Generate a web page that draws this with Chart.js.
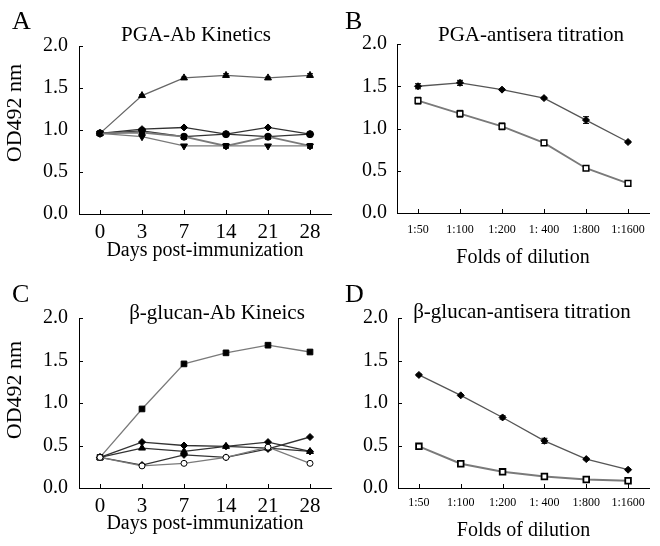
<!DOCTYPE html>
<html><head><meta charset="utf-8">
<script src="https://cdn.jsdelivr.net/npm/chart.js@4"></script>
<style>
body{margin:0;background:#fff}
#wrap{position:relative;width:660px;height:546px;background:#fff}
canvas{position:absolute}
</style>
</head><body>
<div id="wrap">
<canvas id="cA" width="340" height="273" style="left:0;top:0"></canvas>
<canvas id="cB" width="330" height="273" style="left:330px;top:0"></canvas>
<canvas id="cC" width="340" height="273" style="left:0;top:273px"></canvas>
<canvas id="cD" width="330" height="273" style="left:330px;top:273px"></canvas>
</div>
<script>
// ---- data ----
const days = ['0','3','7','14','21','28'];
const dilutions = ['1:50','1:100','1:200','1: 400','1:800','1:1600'];
const yTickValues = [0, 0.5, 1.0, 1.5, 2.0];

// Panel A: PGA-Ab kinetics
const pgaKinTop = [0.96, 1.41, 1.62, 1.65, 1.62, 1.65];
const pgaKinTopErr = [0, 0.01, 0.01, 0.02, 0.01, 0.02];
const pgaKinS1 = [0.96, 1.01, 1.03, 0.95, 1.03, 0.95];
const pgaKinS2 = [0.96, 0.99, 0.92, 0.95, 0.92, 0.95];
const pgaKinS3 = [0.96, 0.97, 0.92, 0.81, 0.92, 0.81];
const pgaKinS4 = [0.96, 0.92, 0.81, 0.81, 0.81, 0.81];

// Panel B: PGA-antisera titration
const pgaTitHigh = [1.50, 1.54, 1.46, 1.36, 1.10, 0.84];
const pgaTitHighErr = [0.03, 0.03, 0.01, 0.01, 0.04, 0.01];
const pgaTitLow = [1.33, 1.175, 1.025, 0.83, 0.53, 0.35];
const pgaTitLowErr = [0.04, 0.04, 0.04, 0.01, 0.01, 0.01];

// Panel C: beta-glucan-Ab kinetics
const glcKinTop = [0.36, 0.93, 1.46, 1.59, 1.68, 1.60];
const glcKinS1 = [0.36, 0.54, 0.50, 0.49, 0.54, 0.43];
const glcKinS2 = [0.36, 0.47, 0.43, 0.49, 0.47, 0.43];
const glcKinS3 = [0.36, 0.27, 0.39, 0.36, 0.46, 0.60];
const glcKinS4 = [0.36, 0.26, 0.29, 0.36, 0.48, 0.29];

// Panel D: beta-glucan-antisera titration
const glcTitHigh = [1.33, 1.09, 0.83, 0.555, 0.34, 0.215];
const glcTitHighErr = [0.01, 0.01, 0.02, 0.03, 0.01, 0.01];
const glcTitLow = [0.49, 0.285, 0.19, 0.135, 0.10, 0.085];
const glcTitLowErr = [0.01, 0.01, 0.01, 0.01, 0.01, 0.01];

// ---- drawing ----
const SERIF = "'Liberation Serif', 'DejaVu Serif', 'Times New Roman', serif";

function ds(data, o) {
  return Object.assign({
    data: data,
    borderColor: '#444',
    borderWidth: 1.3,
    pointStyle: 'circle',
    pointRadius: 3.5,
    pointBackgroundColor: '#000',
    pointBorderColor: '#000',
    pointBorderWidth: 1,
    pointRotation: 0,
    tension: 0,
    fill: false
  }, o || {});
}

function makePanel(id, p) {
  const decor = {
    id: 'decor' + id,
    beforeDatasetsDraw(chart) {
      const ctx = chart.ctx;
      const x = chart.scales.x, y = chart.scales.y;
      ctx.save();
      ctx.strokeStyle = '#000';
      ctx.lineWidth = 1;
      (p.errors || []).forEach(e => {
        const vals = chart.data.datasets[e.ds].data;
        vals.forEach((v, i) => {
          const err = e.err[i];
          if (!err) return;
          const px = x.getPixelForValue(i);
          const y1 = y.getPixelForValue(v - err), y2 = y.getPixelForValue(v + err);
          ctx.beginPath();
          ctx.moveTo(px, y1); ctx.lineTo(px, y2);
          ctx.moveTo(px - 3, y1); ctx.lineTo(px + 3, y1);
          ctx.moveTo(px - 3, y2); ctx.lineTo(px + 3, y2);
          ctx.stroke();
        });
      });
      ctx.restore();
    },
    afterDraw(chart) {
      const ctx = chart.ctx;
      const x = chart.scales.x, y = chart.scales.y;
      const area = chart.chartArea;
      ctx.save();
      ctx.strokeStyle = '#000';
      ctx.lineWidth = 1;
      ctx.beginPath();
      x.ticks.forEach((t, i) => {
        const px = Math.round(x.getPixelForTick(i)) + 0.5;
        ctx.moveTo(px, area.bottom);
        ctx.lineTo(px, area.bottom - 4);
      });
      y.ticks.forEach(t => {
        const py = Math.round(y.getPixelForValue(t.value)) + 0.5;
        ctx.moveTo(area.left, py);
        ctx.lineTo(area.left + 4, py);
      });
      ctx.stroke();
      ctx.fillStyle = '#000';
      ctx.textBaseline = 'middle';
      ctx.textAlign = 'left';
      ctx.font = '26px ' + SERIF;
      ctx.fillText(p.letter, p.letterX, p.letterY);
      ctx.textAlign = 'center';
      ctx.font = '21px ' + SERIF;
      ctx.fillText(p.title, p.titleX, p.titleY);
      if (p.yTitle) {
        ctx.save();
        ctx.translate(p.yTitleX, p.yTitleY);
        ctx.rotate(-Math.PI / 2);
        ctx.font = '22px ' + SERIF;
        ctx.fillText(p.yTitle, 0, 0);
        ctx.restore();
      }
      ctx.restore();
    }
  };
  new Chart(document.getElementById(id), {
    type: 'line',
    data: { labels: p.labels, datasets: p.datasets },
    options: {
      responsive: false,
      animation: false,
      events: [],
      layout: { padding: { top: p.padTop, right: p.padRight, left: 0, bottom: 0 } },
      plugins: { legend: { display: false }, tooltip: { enabled: false } },
      scales: {
        x: {
          type: 'category',
          offset: true,
          grid: { display: false, drawTicks: false },
          border: { display: true, color: '#000', width: 1 },
          ticks: { color: '#000', font: { family: SERIF, size: p.xTickSize }, padding: p.xTickPad, maxRotation: 0, autoSkip: false },
          title: { display: true, text: p.xTitle, color: '#000', font: { family: SERIF, size: 20 }, padding: { top: 0, bottom: p.xTitlePad } },
          afterFit: s => { s.height = p.xHeight; }
        },
        y: {
          min: 0, max: 2,
          grid: { display: false, drawTicks: false },
          border: { display: true, color: '#000', width: 1 },
          afterBuildTicks: s => { s.ticks = yTickValues.map(v => ({ value: v })); },
          ticks: { color: '#000', font: { family: SERIF, size: 20 }, padding: p.yTickPad, callback: v => Number(v).toFixed(1) },
          afterFit: s => { s.width = p.yWidth; }
        }
      }
    },
    plugins: [decor]
  });
}

const GRAY = '#7a7a7a', DARK = '#333';

makePanel('cA', {
  labels: days, xTitle: 'Days post-immunization',
  padTop: 46, padRight: 9, yWidth: 79, xHeight: 59, xTickSize: 21, xTickPad: 6, xTitlePad: 10, yTickPad: 11,
  letter: 'A', letterX: 12, letterY: 22, title: 'PGA-Ab Kinetics', titleX: 196, titleY: 35,
  yTitle: 'OD492 nm', yTitleX: 15, yTitleY: 113,
  datasets: [
    ds(pgaKinS4, { borderColor: GRAY, pointStyle: 'triangle', pointRotation: 180, pointRadius: 4 }),
    ds(pgaKinS3, { borderColor: GRAY, borderWidth: 1.8, pointStyle: 'rect', pointRadius: 3.5 }),
    ds(pgaKinS2, { borderColor: DARK, pointStyle: 'circle', pointRadius: 3.5 }),
    ds(pgaKinS1, { borderColor: DARK, pointStyle: 'rectRot', pointRadius: 3.5 }),
    ds(pgaKinTop, { borderColor: '#666', pointStyle: 'triangle', pointRadius: 4 })
  ],
  errors: [{ ds: 4, err: pgaKinTopErr }]
});

makePanel('cB', {
  labels: dilutions, xTitle: 'Folds of dilution',
  padTop: 44, padRight: 11, yWidth: 67, xHeight: 60, xTickSize: 12, xTickPad: 10, xTitlePad: 3, yTickPad: 10,
  letter: 'B', letterX: 15, letterY: 22, title: 'PGA-antisera titration', titleX: 201, titleY: 35,
  datasets: [
    ds(pgaTitLow, { borderColor: GRAY, borderWidth: 1.8, pointStyle: 'rect', pointRadius: 4, pointBackgroundColor: '#fff', pointBorderWidth: 1.5 }),
    ds(pgaTitHigh, { borderColor: '#555', pointStyle: 'rectRot', pointRadius: 3.5 })
  ],
  errors: [{ ds: 0, err: pgaTitLowErr }, { ds: 1, err: pgaTitHighErr }]
});

makePanel('cC', {
  labels: days, xTitle: 'Days post-immunization',
  padTop: 45, padRight: 9, yWidth: 79, xHeight: 58, xTickSize: 21, xTickPad: 6, xTitlePad: 10, yTickPad: 11,
  letter: 'C', letterX: 12, letterY: 22, title: 'β-glucan-Ab Kineics', titleX: 217, titleY: 40,
  yTitle: 'OD492 nm', yTitleX: 15, yTitleY: 117,
  datasets: [
    ds(glcKinS4, { borderColor: GRAY, pointStyle: 'circle', pointRadius: 3, pointBackgroundColor: '#fff' }),
    ds(glcKinS3, { borderColor: DARK, pointStyle: 'rectRot', pointRadius: 3.5 }),
    ds(glcKinS2, { borderColor: DARK, pointStyle: 'triangle', pointRadius: 4 }),
    ds(glcKinS1, { borderColor: DARK, pointStyle: 'rectRot', pointRadius: 3.5 }),
    ds(glcKinTop, { borderColor: GRAY, pointStyle: 'rect', pointRadius: 4 })
  ]
});

makePanel('cD', {
  labels: dilutions, xTitle: 'Folds of dilution',
  padTop: 45, padRight: 11, yWidth: 68, xHeight: 58, xTickSize: 12, xTickPad: 8, xTitlePad: 3, yTickPad: 10,
  letter: 'D', letterX: 15, letterY: 22, title: 'β-glucan-antisera titration', titleX: 192, titleY: 39,
  datasets: [
    ds(glcTitLow, { borderColor: GRAY, borderWidth: 2, pointStyle: 'rect', pointRadius: 4, pointBackgroundColor: '#fff', pointBorderWidth: 1.8 }),
    ds(glcTitHigh, { borderColor: '#555', pointStyle: 'rectRot', pointRadius: 3.5 })
  ],
  errors: [{ ds: 0, err: glcTitLowErr }, { ds: 1, err: glcTitHighErr }]
});
</script>
</body></html>
